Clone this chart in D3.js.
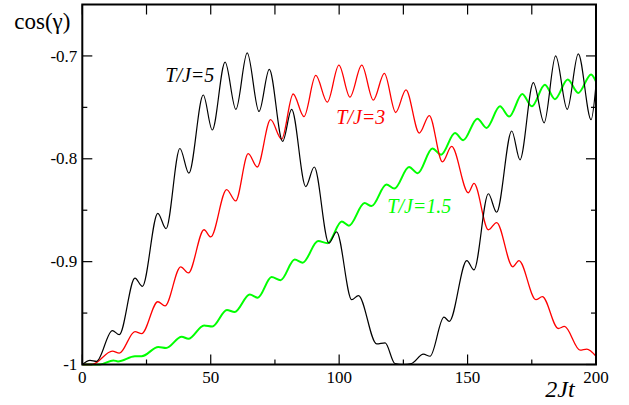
<!DOCTYPE html>
<html>
<head>
<meta charset="utf-8">
<script src="https://cdn.jsdelivr.net/npm/d3@7"></script>
<style>
    body { margin: 0; background: #fff; }
</style>
</head>
<body>
<div id="chart-container"></div>
<script>
// Relaxation of cos(gamma) vs 2Jt for three temperatures
// Values read off peaks / troughs of the reference picture

const xMajorTicks = [0, 50, 100, 150, 200];
const xMinorTicks = [25, 75, 125, 175];
const yMajorTicks = [-1, -0.9, -0.8, -0.7];
const yMinorTicks = [-0.95, -0.85, -0.75];
const yTickLabels = ['-1', '-0.9', '-0.8', '-0.7'];

// T/J = 5 (black)
const seriesT5 = [
    [0, -1], [3.0, -0.996], [5.5, -0.997], [11.7, -0.967], [14.4, -0.971],
    [20.5, -0.916], [23.4, -0.924], [29.4, -0.853], [32.6, -0.868],
    [38.0, -0.790], [41.5, -0.814], [47.1, -0.738], [50.6, -0.772],
    [55.6, -0.706], [59.8, -0.752], [64.2, -0.697], [68.8, -0.754],
    [72.8, -0.713], [78.0, -0.783], [81.5, -0.752], [87.0, -0.827],
    [90.3, -0.808], [96.0, -0.882], [99.0, -0.871], [104.9, -0.937],
    [107.5, -0.933], [114.6, -0.980], [117.9, -0.979], [121.7, -0.999],
    [125.0, -1.0], [128.2, -0.999], [132.8, -0.990], [135.4, -0.992],
    [140.8, -0.954], [142.9, -0.958], [149.7, -0.899], [152.5, -0.908],
    [158.1, -0.834], [161.3, -0.852], [167.2, -0.773], [170.4, -0.801],
    [175.6, -0.726], [179.8, -0.765], [184.3, -0.700], [188.8, -0.752],
    [193.1, -0.698], [198.1, -0.762], [200, -0.728]
];

// T/J = 3 (red)
const seriesT3 = [
    [0, -1], [3.8, -1.0], [11.7, -0.987], [14.4, -0.989], [20.5, -0.968],
    [23.1, -0.970], [29.4, -0.939], [32.2, -0.943], [38.3, -0.905],
    [41.3, -0.911], [47.4, -0.869], [50.0, -0.876], [56.2, -0.830],
    [59.7, -0.841], [64.6, -0.795], [68.1, -0.808], [73.3, -0.762],
    [77.6, -0.781], [82.1, -0.737], [86.3, -0.759], [90.9, -0.719],
    [95.4, -0.745], [99.9, -0.709], [104.2, -0.740], [108.8, -0.709],
    [113.3, -0.743], [117.6, -0.717], [122.0, -0.755], [126.0, -0.733],
    [131.2, -0.775], [135.1, -0.758], [140.2, -0.803], [143.8, -0.788],
    [150.3, -0.833], [152.5, -0.824], [158.1, -0.869], [161.3, -0.862],
    [167.6, -0.905], [170.0, -0.899], [176.6, -0.937], [179.1, -0.934],
    [185.3, -0.965], [187.7, -0.963], [193.8, -0.986], [196.4, -0.985],
    [200, -0.992]
];

// T/J = 1.5 (green)
const seriesT15 = [
    [0, -1], [6.9, -1.0], [12.1, -0.996], [13.9, -0.997], [20.5, -0.992],
    [23.1, -0.992], [29.6, -0.983], [32.6, -0.984], [38.7, -0.973],
    [41.3, -0.975], [47.4, -0.962], [50.6, -0.963], [56.3, -0.947],
    [59.3, -0.949], [65.2, -0.932], [68.3, -0.935], [73.7, -0.915],
    [77.2, -0.918], [82.7, -0.898], [85.8, -0.901], [91.8, -0.880],
    [95.5, -0.882], [101.0, -0.861], [103.8, -0.865], [109.9, -0.843],
    [112.6, -0.846], [118.4, -0.825], [121.5, -0.829], [127.2, -0.808],
    [130.6, -0.814], [136.3, -0.790], [139.7, -0.796], [145.1, -0.775],
    [148.3, -0.782], [153.8, -0.761], [157.4, -0.770], [162.6, -0.749],
    [166.2, -0.759], [171.3, -0.737], [175.0, -0.749], [180.1, -0.728],
    [184.0, -0.742], [189.0, -0.723], [193.1, -0.736], [198.1, -0.718],
    [200, -0.725]
];

const seriesNames = ['T/J=5', 'T/J=3', 'T/J=1.5'];

const SERIF = "'Times New Roman', Times, 'Liberation Serif', 'DejaVu Serif', serif";

class RelaxationChart {
    constructor(containerId) {
        this.containerId = containerId;
        this.margin = {top: 4.5, right: 33, bottom: 40.5, left: 82.3};
        this.width = 629 - this.margin.left - this.margin.right;
        this.height = 405 - this.margin.top - this.margin.bottom;
    }

    init() {
        this.svg = d3.select(`#${this.containerId}`)
            .append('svg')
            .attr('width', 629)
            .attr('height', 405)
            .attr('font-family', SERIF)
            .append('g')
            .attr('transform', `translate(${this.margin.left},${this.margin.top})`);

        this.x = d3.scaleLinear().domain([0, 200]).range([0, this.width]);
        this.y = d3.scaleLinear().domain([-1, -0.65]).range([this.height, 0]);

        this.drawCurves();
        this.drawAxes();
        this.drawLabels();
    }

    drawCurves() {
        const line = d3.line()
            .x(d => this.x(d[0]))
            .y(d => this.y(d[1]))
            .curve(d3.curveMonotoneX);

        const curves = [
            {data: seriesT15, color: '#00ff00', width: 2},
            {data: seriesT3, color: '#ff0000', width: 1.3},
            {data: seriesT5, color: '#000000', width: 1.2}
        ];

        this.svg.selectAll('.curve')
            .data(curves)
            .enter()
            .append('path')
            .attr('class', 'curve')
            .attr('d', d => line(d.data))
            .attr('fill', 'none')
            .attr('stroke', d => d.color)
            .attr('stroke-width', d => d.width)
            .attr('stroke-linejoin', 'round');
    }

    drawAxes() {
        const w = this.width;
        const h = this.height;

        // frame
        this.svg.append('rect')
            .attr('x', 0)
            .attr('y', 0)
            .attr('width', w)
            .attr('height', h)
            .attr('fill', 'none')
            .attr('stroke', '#000')
            .attr('stroke-width', 2);

        // inward ticks: bottom / top
        const xTicks = [
            ...xMajorTicks.map(v => ({v, len: 10})),
            ...xMinorTicks.map(v => ({v, len: 5}))
        ];
        this.svg.selectAll('.xtick-b')
            .data(xTicks)
            .enter()
            .append('line')
            .attr('x1', d => this.x(d.v))
            .attr('x2', d => this.x(d.v))
            .attr('y1', h)
            .attr('y2', d => h - d.len)
            .attr('stroke', '#000')
            .attr('stroke-width', 1.2);

        this.svg.selectAll('.xtick-t')
            .data(xTicks)
            .enter()
            .append('line')
            .attr('x1', d => this.x(d.v))
            .attr('x2', d => this.x(d.v))
            .attr('y1', 0)
            .attr('y2', 10)
            .attr('stroke', '#000')
            .attr('stroke-width', 1.2);

        // inward ticks: left / right
        const yTicks = [
            ...yMajorTicks.map(v => ({v, len: 10})),
            ...yMinorTicks.map(v => ({v, len: 5}))
        ];
        this.svg.selectAll('.ytick-l')
            .data(yTicks)
            .enter()
            .append('line')
            .attr('x1', 0)
            .attr('x2', d => d.len)
            .attr('y1', d => this.y(d.v))
            .attr('y2', d => this.y(d.v))
            .attr('stroke', '#000')
            .attr('stroke-width', 1.2);

        this.svg.selectAll('.ytick-r')
            .data(yTicks)
            .enter()
            .append('line')
            .attr('x1', w)
            .attr('x2', d => w - d.len)
            .attr('y1', d => this.y(d.v))
            .attr('y2', d => this.y(d.v))
            .attr('stroke', '#000')
            .attr('stroke-width', 1.2);

        // tick labels
        this.svg.selectAll('.xlabel')
            .data(xMajorTicks)
            .enter()
            .append('text')
            .attr('x', d => this.x(d))
            .attr('y', h + 18)
            .attr('text-anchor', 'middle')
            .style('font-family', SERIF)
            .style('font-size', '17px')
            .text(d => d);

        this.svg.selectAll('.ylabel')
            .data(yMajorTicks)
            .enter()
            .append('text')
            .attr('x', -5)
            .attr('y', d => this.y(d))
            .attr('dy', '0.33em')
            .attr('text-anchor', 'end')
            .style('font-family', SERIF)
            .style('font-size', '17px')
            .text((d, i) => yTickLabels[i]);
    }

    drawLabels() {
        // axis titles
        this.svg.append('text')
            .attr('x', -68)
            .attr('y', 24)
            .style('font-family', SERIF)
            .style('font-size', '23px')
            .text('cos(γ)');

        this.svg.append('text')
            .attr('x', 463)
            .attr('y', 392)
            .style('font-family', SERIF)
            .style('font-size', '24px')
            .style('font-style', 'italic')
            .text('2Jt');

        // curve labels
        const labels = [
            {text: seriesNames[0], x: 83, y: 77, color: '#000000'},
            {text: seriesNames[1], x: 254, y: 119, color: '#ff0000'},
            {text: seriesNames[2], x: 305, y: 208, color: '#00ff00'}
        ];

        this.svg.selectAll('.curve-label')
            .data(labels)
            .enter()
            .append('text')
            .attr('class', 'curve-label')
            .attr('x', d => d.x)
            .attr('y', d => d.y)
            .attr('fill', d => d.color)
            .style('font-family', SERIF)
            .style('font-size', '20px')
            .style('font-style', 'italic')
            .text(d => d.text);
    }
}

const chart = new RelaxationChart('chart-container');
chart.init();
</script>
</body>
</html>
